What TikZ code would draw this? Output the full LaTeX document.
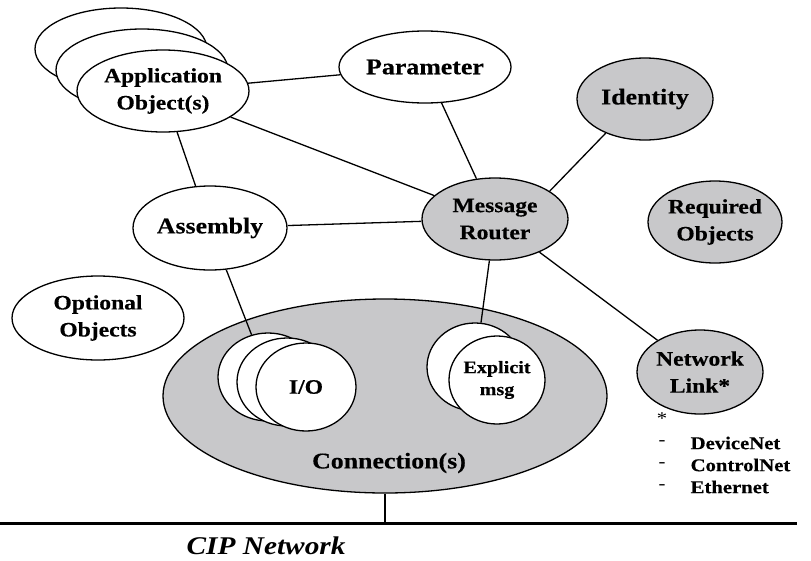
\documentclass[tikz,border=0pt]{standalone}
\usepackage{fontspec}
\setmainfont{Liberation Serif}[FakeStretch=1.15,BoldFeatures={FakeBold=0.4}]
\usetikzlibrary{shapes.geometric}
\definecolor{objgray}{RGB}{200,200,202}

\begin{document}
\begin{tikzpicture}
[x=1pt,y=-1pt,-,line width=1.3pt,%
  every node/.style={font=\bfseries\fontsize{20.5}{27}\selectfont,align=center,inner sep=0pt},%
  obj/.style 2 args={shape=ellipse,draw,fill=white,minimum width=#1,minimum height=#2},%
  req/.style 2 args={obj={#1}{#2},fill=objgray},%
  big/.style={font=\bfseries\fontsize{22.5}{28}\selectfont},%
  small/.style={font=\bfseries\fontsize{17.5}{22}\selectfont}]
\useasboundingbox (0,0) rectangle (811,560);
% application objects, stacked
\node[obj={172pt}{82pt}] (app3) at (121,49) {};
\node[obj={172pt}{82pt}] (app2) at (142,70) {};
\node[obj={172pt}{82pt}] (app) at (163,91) {Application\\Object(s)};
\node[obj={172pt}{72pt},big] (param) at (425,67) {Parameter};
\node[req={136pt}{82pt},big] (ident) at (645,99) {Identity};
\node[req={146pt}{82pt}] (router) at (495,219) {Message\\Router};
\node[req={134pt}{82pt}] (reqobj) at (715,222) {Required\\Objects};
\node[obj={154pt}{84pt},big] (assy) at (210,228) {Assembly};
\node[obj={172pt}{84pt}] (optobj) at (98,318) {Optional\\Objects};
\node[req={126pt}{84pt}] (netlink) at (700,372) {Network\\Link*};
% connection objects
\node[req={444pt}{194pt}] (conn) at (385,396) {};
\node[big] (conntext) at (389,463) {Connection(s)};
\node[obj={100pt}{88pt}] (io3) at (268,377) {};
\node[obj={100pt}{88pt}] (io2) at (287,382) {};
\node[obj={100pt}{88pt}] (io) at (306,387) {I/O};
\node[obj={96pt}{88pt}] (expl2) at (475,367) {};
\node[obj={96pt}{88pt},small] (expl) at (497,380) {Explicit\\msg};
% links
\draw (app) -- (param);
\draw (app) -- (router);
\draw (app) -- (assy);
\draw (param) -- (router);
\draw (ident.221) -- (router.27);
\draw (assy) -- (router);
\draw (assy) -- (io3);
\draw (router) -- (expl2);
\draw (router) -- (netlink);
% network
\coordinate (netL) at (0,523);
\coordinate (netR) at (797,523);
\draw[line width=3pt] (netL) -- (netR);
\draw (conn.south) -- (conn.south |- netL);
\node[font=\bfseries\itshape\fontsize{25.5}{30}\selectfont,anchor=west] (cipnet) at (186,546) {CIP Network};
% footnote
\node[font=\mdseries\fontsize{18}{22}\selectfont] (star) at (662,419) {*};
\foreach \txt [count=\i] in {DeviceNet,ControlNet,Ethernet}
  {\node[font=\mdseries\fontsize{18}{22}\selectfont] (dash\i) at (662,421+22*\i) {-};
   \node[font=\bfseries\fontsize{18}{22}\selectfont,anchor=west] (net\i) at (690,421+22*\i) {\txt};}
\end{tikzpicture}
\end{document}
